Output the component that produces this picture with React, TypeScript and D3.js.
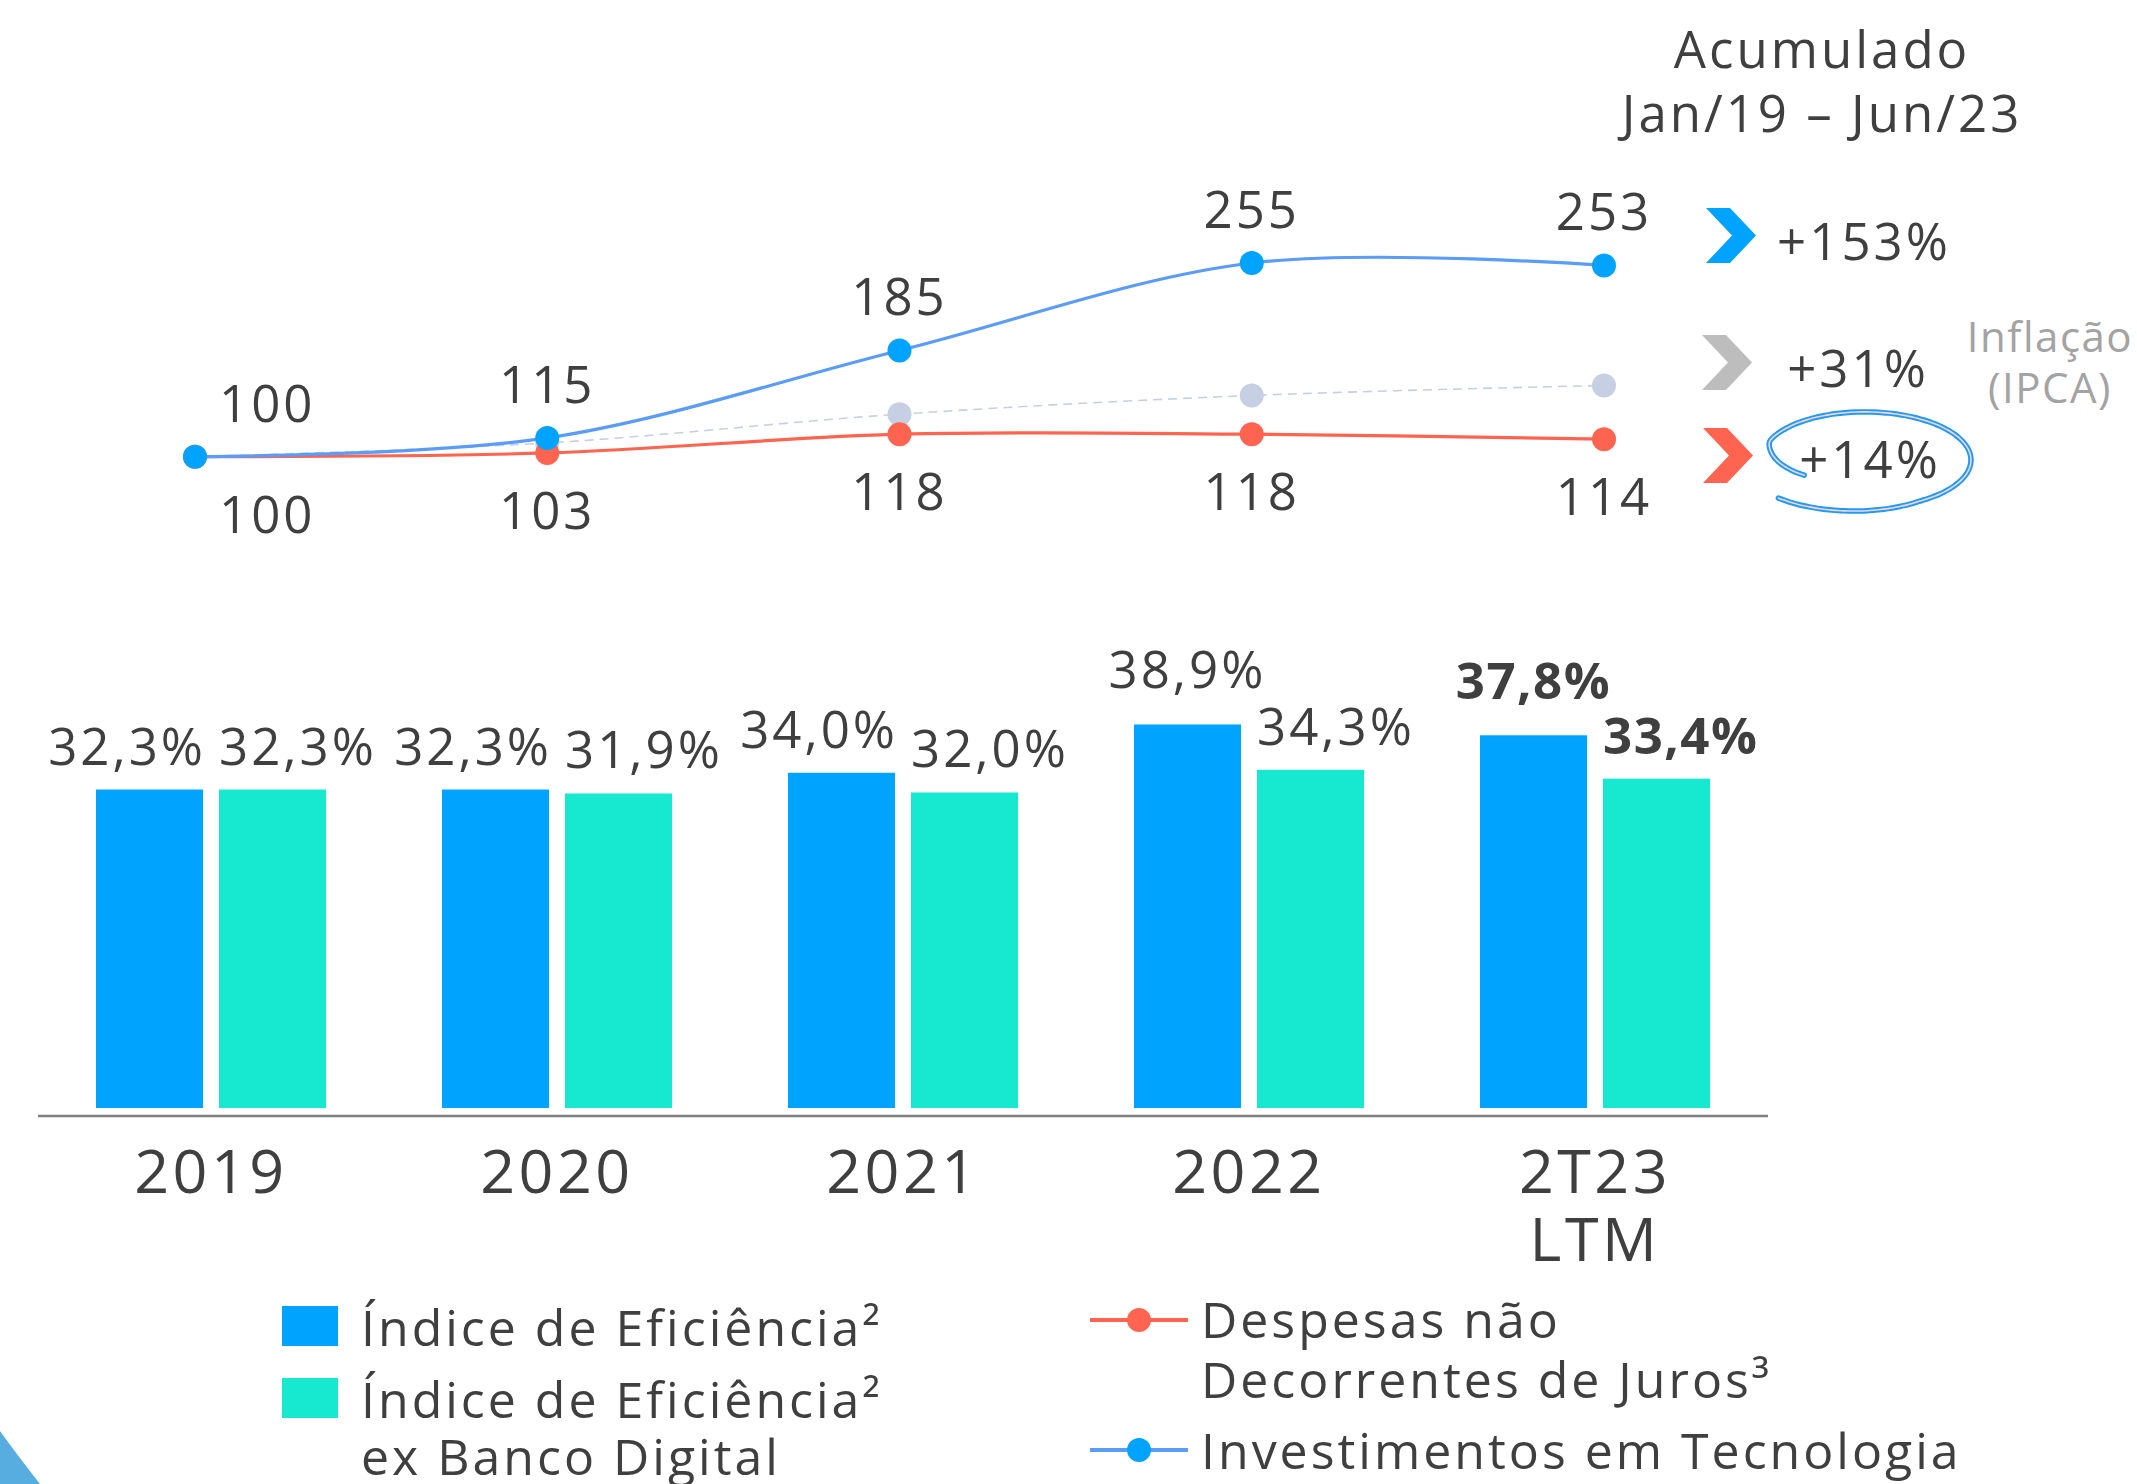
import React from "react";
import * as d3 from "d3";

// ---------- DATA ----------
const periods = ["2019", "2020", "2021", "2022", "2T23"];
const periodLabels = [["2019"], ["2020"], ["2021"], ["2022"], ["2T23", "LTM"]];
const techInvestment = [100, 115, 185, 255, 253];
const nonInterestExpenses = [100, 103, 118, 118, 114];
const inflationGuide = [100, 111, 134, 149, 157];
const efficiencyRatio = [32.3, 32.3, 34.0, 38.9, 37.8];
const efficiencyExDigital = [32.3, 31.9, 32.0, 34.3, 33.4];
const boldPeriods = ["2T23"];
const accumulatedLabels = ["+153%", "+31%", "+14%"];
const accumulatedTitle = ["Acumulado", "Jan/19 – Jun/23"];
const inflationLabel = ["Inflação", "(IPCA)"];
const barLegend = [["Índice de Eficiência²"], ["Índice de Eficiência²", "ex Banco Digital"]];
const lineLegend = [["Despesas não", "Decorrentes de Juros³"], ["Investimentos em Tecnologia"]];

// ---------- STYLE ----------
const W = 2137;
const H = 1484;
const FONT = "'Open Sans', 'Noto Sans', sans-serif";
const TEXT = "#3f3f3f";
const BLUE_BAR = "#00a4ff";
const TEAL_BAR = "#17e8d0";
const BLUE_LINE = "#5a9cf7";
const BLUE_DOT = "#00a3ff";
const RED = "#ff6450";
const GRAY_DOT = "#c7d0e2";
const blueLabelAnchor = ["end", "end", "end", "middle", "middle"];

const ptBR = d3.formatLocale({ decimal: ",", thousands: ".", grouping: [3], currency: ["R$", ""] });
const pct = ptBR.format(".1f");

export default function App() {
  // line chart scales
  const xl = d3.scalePoint<string>().domain(periods).range([195, 1604]);
  const yl = d3.scaleLinear().domain([100, 255]).range([456.7, 263]);
  const line = d3
    .line<number>()
    .x((_, i) => xl(periods[i]) as number)
    .y((d) => yl(d))
    .curve(d3.curveCardinal.tension(0));

  // bar chart scales
  const x0 = d3.scaleBand<string>().domain(periods).range([38, 1768]).paddingInner(0.335).paddingOuter(0.1675);
  const x1 = d3.scaleBand<string>().domain(["a", "b"]).range([0, x0.bandwidth()]).paddingInner(0.13);
  const yb = d3.scaleLinear().domain([0, 45]).range([1108, 664.3]);

  // chevron shape
  const chevron = (x: number, y: number) =>
    `M${x},${y} L${x + 24},${y} L${x + 50},${y + 27.5} L${x + 24},${y + 55} L${x},${y + 55} L${x + 26},${y + 27.5} Z`;
  const chevrons = [
    { x: 1706, y: 208, color: BLUE_DOT, cx: 1864, base: 260 },
    { x: 1702, y: 335, color: "#bdbdbd", cx: 1858, base: 387 },
    { x: 1703, y: 428, color: RED, cx: 1870, base: 478 },
  ];

  // hand-drawn ellipse around +14%
  const cx = 1867, cy = 460, rx = 104, ry = 46;
  const loopPts: [number, number][] = d3.range(147, 500, 3).map((a) => {
    const r = a < 200 ? 0.72 + ((a - 147) / 53) * 0.28 : a > 420 ? 1 + ((a - 420) / 80) * 0.15 : 1;
    const t = (a * Math.PI) / 180;
    return [cx + rx * r * Math.cos(t), cy + ry * r * Math.sin(t) - 3 * Math.sin(t * 0.5)];
  });
  const loop = d3.line().curve(d3.curveBasis)(loopPts) as string;

  const textProps = { fontFamily: FONT, fill: TEXT, letterSpacing: 3 } as const;

  return (
    <svg
      width={W}
      height={H}
      viewBox={`0 0 ${W} ${H}`}
      style={{ position: "absolute", left: 0, top: 0, background: "#fff" }}
    >
      <rect width={W} height={H} fill="#fff" />

      {/* bottom-left decoration */}
      <path d={`M0,1431 Q18,1456 40,1484 L0,1484 Z`} fill="#58ade0" />

      {/* ---- line chart ---- */}
      <path d={line(inflationGuide) as string} fill="none" stroke={GRAY_DOT} strokeWidth={1.6} strokeDasharray="9,6" />
      {inflationGuide.map((v, i) =>
        i === 0 ? null : <circle key={"g" + i} cx={xl(periods[i])} cy={yl(v)} r={12} fill={GRAY_DOT} />
      )}
      <path d={line(nonInterestExpenses) as string} fill="none" stroke={RED} strokeWidth={3.2} />
      {nonInterestExpenses.map((v, i) => (
        <circle key={"r" + i} cx={xl(periods[i])} cy={yl(v)} r={12} fill={RED} />
      ))}
      <path d={line(techInvestment) as string} fill="none" stroke={BLUE_LINE} strokeWidth={3.2} />
      {techInvestment.map((v, i) => (
        <circle key={"b" + i} cx={xl(periods[i])} cy={yl(v)} r={12} fill={BLUE_DOT} />
      ))}
      {techInvestment.map((v, i) => (
        <text
          key={"bt" + i}
          {...textProps}
          fontSize={51}
          x={(xl(periods[i]) as number) + (i === 0 ? 24 : 0)}
          y={yl(v) - 35}
          textAnchor={i === 0 ? "start" : "middle"}
        >
          {v}
        </text>
      ))}
      {nonInterestExpenses.map((v, i) => (
        <text
          key={"rt" + i}
          {...textProps}
          fontSize={51}
          x={(xl(periods[i]) as number) + (i === 0 ? 24 : 0)}
          y={yl(v) + 76}
          textAnchor={i === 0 ? "start" : "middle"}
        >
          {v}
        </text>
      ))}

      {/* accumulated block */}
      {accumulatedTitle.map((t, i) => (
        <text key={"at" + i} {...textProps} fontSize={51} x={1822} y={68 + i * 64} textAnchor="middle">
          {t}
        </text>
      ))}
      {chevrons.map((c, i) => (
        <g key={"c" + i}>
          <path d={chevron(c.x, c.y)} fill={c.color} />
          <text {...textProps} fontSize={51} x={c.cx} y={c.base} textAnchor="middle">
            {accumulatedLabels[i]}
          </text>
        </g>
      ))}
      {inflationLabel.map((t, i) => (
        <text key={"il" + i} fontFamily={FONT} fill="#a3a3a3" fontSize={42} letterSpacing={1.5} x={2050} y={352 + i * 51} textAnchor="middle">
          {t}
        </text>
      ))}
      <path d={loop} fill="none" stroke="#1e9cf0" strokeWidth={5.5} strokeLinecap="round" />
      <path d={loop} fill="none" stroke="#f4d2ea" strokeWidth={1.6} strokeLinecap="round" />

      {/* ---- bar chart ---- */}
      {periods.map((p, i) => {
        const gx = x0(p) as number;
        const bold = boldPeriods.includes(p);
        const xa = gx + (x1("a") as number);
        const xb = gx + (x1("b") as number);
        const bw = x1.bandwidth();
        const ya = yb(efficiencyRatio[i]);
        const ybb = yb(efficiencyExDigital[i]);
        const anchorA = blueLabelAnchor[i];
        return (
          <g key={"bar" + p}>
            <rect x={xa} y={ya} width={bw} height={yb(0) - ya} fill={BLUE_BAR} />
            <rect x={xb} y={ybb} width={bw} height={yb(0) - ybb} fill={TEAL_BAR} />
            <text
              {...textProps}
              fontSize={51}
              fontWeight={bold ? 700 : 400}
              letterSpacing={bold ? 1.5 : 3}
              x={anchorA === "end" ? xa + bw + 3 : xa + bw / 2}
              y={ya - (anchorA === "end" ? 25 : 36)}
              textAnchor={anchorA}
            >
              {pct(efficiencyRatio[i]) + "%"}
            </text>
            <text
              {...textProps}
              fontSize={51}
              fontWeight={bold ? 700 : 400}
              letterSpacing={bold ? 1.5 : 3}
              x={xb}
              y={ybb - 25}
              textAnchor="start"
            >
              {pct(efficiencyExDigital[i]) + "%"}
            </text>
            {periodLabels[i].map((t, j) => (
              <text
                key={"pl" + j}
                {...textProps}
                fontSize={61}
                letterSpacing={3.5}
                x={gx + x0.bandwidth() / 2}
                y={1193 + j * 68}
                textAnchor="middle"
              >
                {t}
              </text>
            ))}
          </g>
        );
      })}
      <line x1={38} x2={1768} y1={1116} y2={1116} stroke="#808080" strokeWidth={2.5} />

      {/* ---- legend ---- */}
      <rect x={282} y={1306} width={56} height={40} fill={BLUE_BAR} />
      <rect x={282} y={1378} width={56} height={40} fill={TEAL_BAR} />
      {barLegend[0].map((t, i) => (
        <text key={"l0" + i} {...textProps} fontSize={50} x={361} y={1346 + i * 57}>
          {t}
        </text>
      ))}
      {barLegend[1].map((t, i) => (
        <text key={"l1" + i} {...textProps} fontSize={50} x={361} y={1418 + i * 57}>
          {t}
        </text>
      ))}
      <line x1={1090} x2={1188} y1={1320} y2={1320} stroke={RED} strokeWidth={4} />
      <circle cx={1139} cy={1320} r={12} fill={RED} />
      {lineLegend[0].map((t, i) => (
        <text key={"l2" + i} {...textProps} fontSize={50} x={1201} y={1338 + i * 60}>
          {t}
        </text>
      ))}
      <line x1={1090} x2={1188} y1={1450} y2={1450} stroke={BLUE_LINE} strokeWidth={4} />
      <circle cx={1139} cy={1450} r={12} fill={BLUE_DOT} />
      {lineLegend[1].map((t, i) => (
        <text key={"l3" + i} {...textProps} fontSize={50} x={1201} y={1469 + i * 60}>
          {t}
        </text>
      ))}
    </svg>
  );
}
